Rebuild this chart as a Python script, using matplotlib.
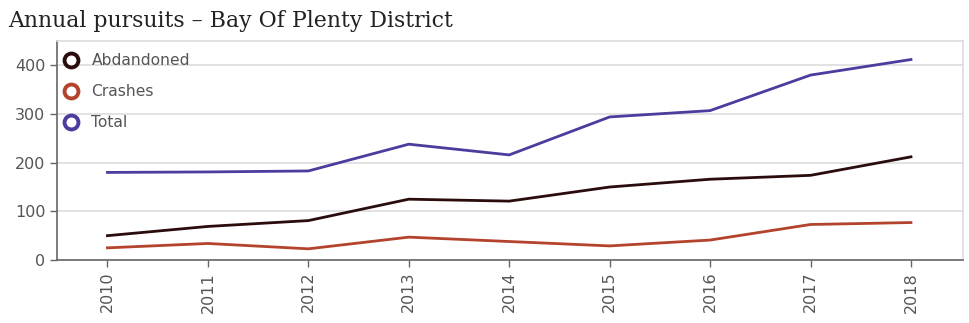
import matplotlib.pyplot as plt
from matplotlib.lines import Line2D

years = [2010, 2011, 2012, 2013, 2014, 2015, 2016, 2017, 2018]
abandoned = [50, 69, 81, 125, 121, 150, 166, 174, 212]
crashes = [25, 34, 23, 47, 38, 29, 41, 73, 77]
total = [180, 181, 183, 238, 216, 294, 307, 380, 412]

series_names = ['Abdandoned', 'Crashes', 'Total']
colors = ['#2a0c0c', '#b3432c', '#4b3c9e']

fig = plt.figure(figsize=(9.7, 3.23), dpi=100)
ax = fig.add_axes([0.059, 0.195, 0.934, 0.678])

for vals, c in zip([abandoned, crashes, total], colors):
    ax.plot(years, vals, color=c, lw=2, solid_joinstyle='miter')

ax.set_xlim(2009.5, 2018.52)
ax.set_ylim(0, 450)
ax.set_yticks([0, 100, 200, 300, 400])
ax.set_xticks(years)
ax.set_xticklabels([str(y) for y in years], rotation=90)
ax.yaxis.grid(True, color='#dddddd', lw=1.2)
ax.set_axisbelow(True)

for s in ['top', 'right']:
    ax.spines[s].set_color('#dddddd')
    ax.spines[s].set_linewidth(1.2)
for s in ['left', 'bottom']:
    ax.spines[s].set_color('#666666')
    ax.spines[s].set_linewidth(1.2)
ax.tick_params(colors='#666666', labelcolor='#555555', labelsize=11.5, length=5, width=1)

# hollow ring markers for the legend
handles = [Line2D([], [], ls='none', marker='o', ms=10, mfc='white', mec=c, mew=2.8) for c in colors]
leg = ax.legend(handles, series_names, loc='upper left', frameon=False, fontsize=11.2,
                handlelength=1.0, handletextpad=0.8, labelspacing=1.02,
                borderpad=0.2, borderaxespad=0.2, bbox_to_anchor=(0.0, 0.972))
for t in leg.get_texts():
    t.set_color('#555555')

fig.text(0.008, 0.935, 'Annual pursuits \u2013 Bay Of Plenty District', family='DejaVu Serif',
         fontsize=15.8, color='#222222', va='center', ha='left')

fig.savefig('out.png', dpi=100, facecolor='white')
